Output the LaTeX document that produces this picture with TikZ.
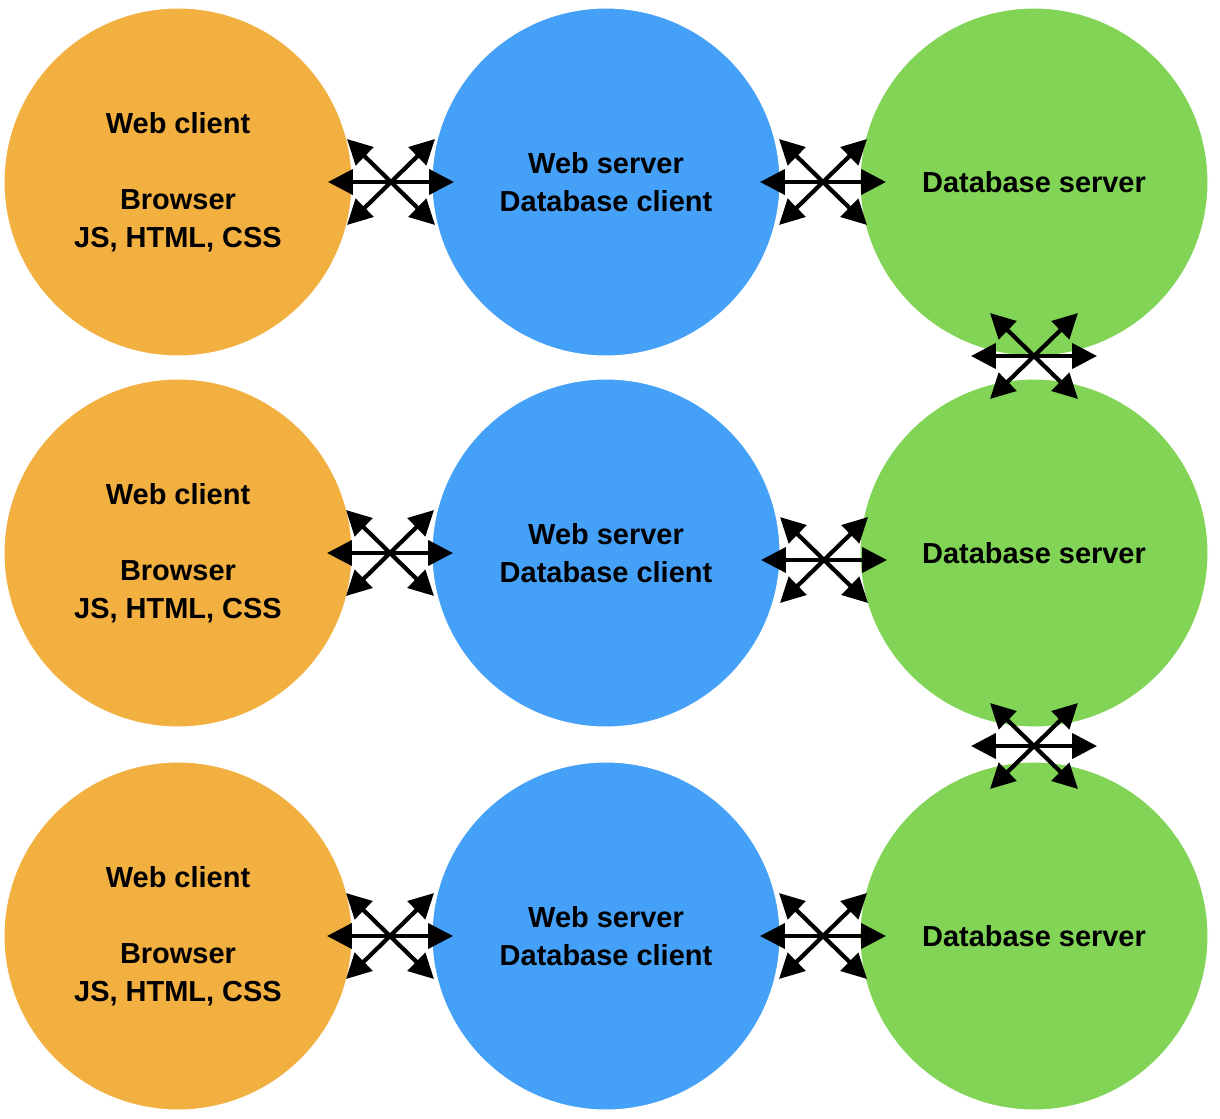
\documentclass[tikz,border=0pt]{standalone}
\usepackage{fontspec}
\setmainfont{Liberation Sans}
\usetikzlibrary{arrows.meta}

\definecolor{clientorange}{RGB}{242,176,65}
\definecolor{serverblue}{RGB}{69,160,247}
\definecolor{dbgreen}{RGB}{130,212,86}

\tikzset{
	tier/.style={circle, minimum size=8.7cm, inner sep=0pt, draw=white, line width=0.8pt,
		align=center, font=\fontsize{20.6}{27}\selectfont\bfseries},
	client/.style={tier, fill=clientorange},
	webserver/.style={tier, fill=serverblue},
	dbserver/.style={tier, fill=dbgreen},
	link/.style={line width=3pt, {Triangle[length=0.62cm,width=0.62cm]}-{Triangle[length=0.62cm,width=0.62cm]}},
	pics/xarrows/.style={code={
		\draw[link] (-63,0) -- (63,0);
		\draw[link] (-44,-43) -- (44,43);
		\draw[link] (-44,43) -- (44,-43);
	}}
}

\begin{document}
\begin{tikzpicture}[x=0.025cm, y=-0.025cm]
	\useasboundingbox (0,0) rectangle (1220,1118);

	\node[client] (c1) at (178, 182) {Web client\\[27pt]Browser\\JS, HTML, CSS};
	\node[client] (c2) at (178, 553) {Web client\\[27pt]Browser\\JS, HTML, CSS};
	\node[client] (c3) at (178, 936) {Web client\\[27pt]Browser\\JS, HTML, CSS};

	\node[webserver] (w1) at (606, 182) {Web server\\Database client};
	\node[webserver] (w2) at (606, 553) {Web server\\Database client};
	\node[webserver] (w3) at (606, 936) {Web server\\Database client};

	\node[dbserver] (d1) at (1034, 182) {Database server};
	\node[dbserver] (d2) at (1034, 553) {Database server};
	\node[dbserver] (d3) at (1034, 936) {Database server};

	\pic at (391, 182) {xarrows};
	\pic at (823, 182) {xarrows};
	\pic at (390, 553) {xarrows};
	\pic at (824, 560) {xarrows};
	\pic at (390, 936) {xarrows};
	\pic at (823, 936) {xarrows};

	\pic at (1034, 356) {xarrows};
	\pic at (1034, 746) {xarrows};

\end{tikzpicture}
\end{document}
